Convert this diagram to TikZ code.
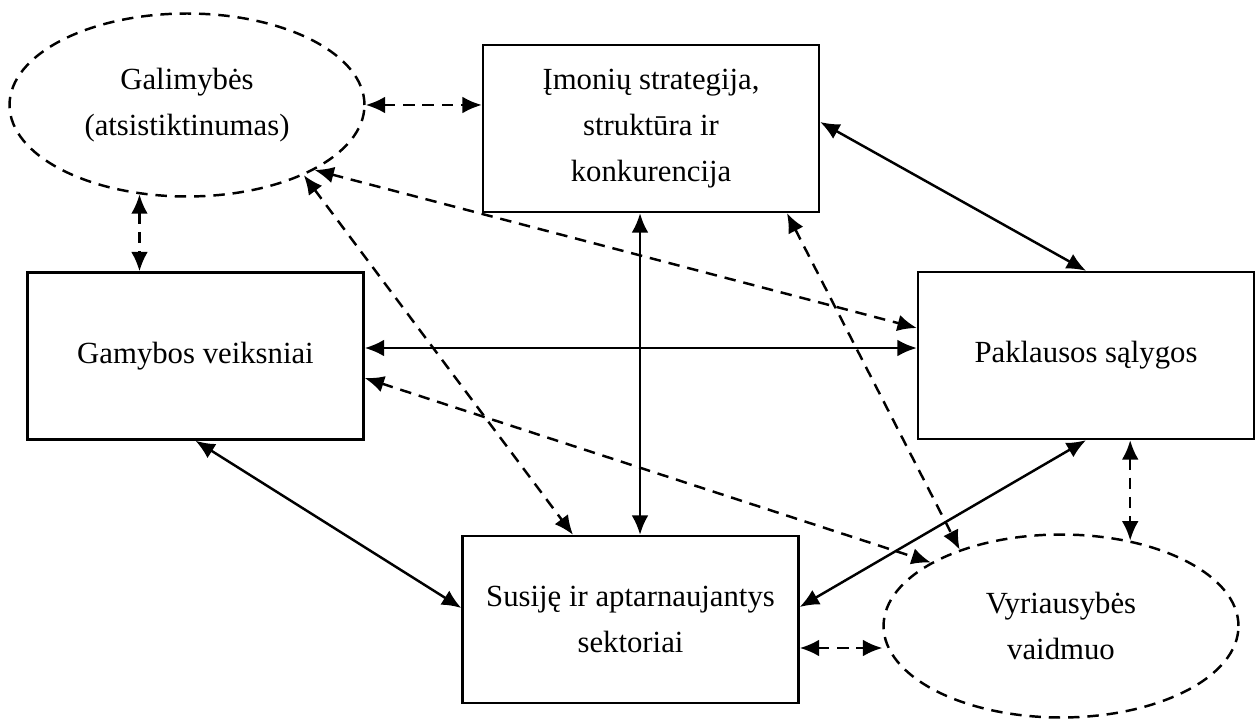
\documentclass[tikz,border=0pt]{standalone}
\usepackage{fontspec}
\setmainfont{Liberation Serif}
\usepackage{xcolor}
\usepackage{tikz}
\usetikzlibrary{arrows.meta,shapes.geometric}

\begin{document}
\begin{tikzpicture}[
  x=0.02cm, y=-0.02cm,
  >={Latex[length=11pt,width=9.5pt]},
  box/.style={draw, line width=1.4pt, align=center, minimum width=6.72cm, minimum height=3.34cm, inner sep=0pt, font=\fontsize{17.5}{26}\selectfont},
  oval/.style={ellipse, draw, line width=1.4pt, dash pattern=on 6.5pt off 4.5pt, align=center, minimum width=7.1cm, minimum height=3.66cm, inner sep=0pt, font=\fontsize{17.5}{26}\selectfont},
  arrow/.style={<->, line width=1.4pt},
  darrow/.style={arrow, dash pattern=on 6.5pt off 4.5pt}
]
\useasboundingbox (0,0) rectangle (1256,719);

\node[oval] (galim) at (187,105) {Galimybės\\(atsistiktinumas)};
\node[box] (imon) at (651,128.5) {Įmonių strategija,\\struktūra ir\\konkurencija};
\node[box] (gamyb) at (195.5,356) {Gamybos veiksniai};
\node[box] (pakl) at (1086,355.5) {Paklausos sąlygos};
\node[box] (susij) at (630.5,619.5) {Susiję ir aptarnaujantys\\sektoriai};
\node[oval] (vyr) at (1061,626) {Vyriausybės\\vaidmuo};

\coordinate (gp) at ([yshift=1.6mm]gamyb.east);
\coordinate (is) at ([xshift=1.9mm]susij.north);
\coordinate (sv) at ([yshift=-5.7mm]susij.east);

\draw[arrow] ([yshift=1.3mm]imon.east) -- (pakl.north);
\draw[arrow] (gp) -- (gp -| pakl.west);
\draw[arrow] (is |- imon.south) -- (is);
\draw[arrow] (gamyb.south) -- ([yshift=2.3mm]susij.west);
\draw[arrow] ([yshift=2.5mm]susij.east) -- (pakl.south);

\draw[darrow] (galim.east) -- (galim.east -| imon.west);
\draw[darrow] (galim.242) -- (galim.242 |- gamyb.north);
\draw[darrow] (galim.-27) -- ([yshift=5.5mm]pakl.west);
\draw[darrow] (galim.-31) -- ([xshift=-11.5mm]susij.north);
\draw[darrow] ([yshift=-4.4mm]gamyb.east) -- (vyr.154);
\draw[darrow] ([xshift=27.2mm]imon.south) -- (vyr.143);
\draw[darrow] (sv) -- (sv -| vyr.west);
\draw[darrow] (vyr.51 |- pakl.south) -- (vyr.51);

\end{tikzpicture}
\end{document}
